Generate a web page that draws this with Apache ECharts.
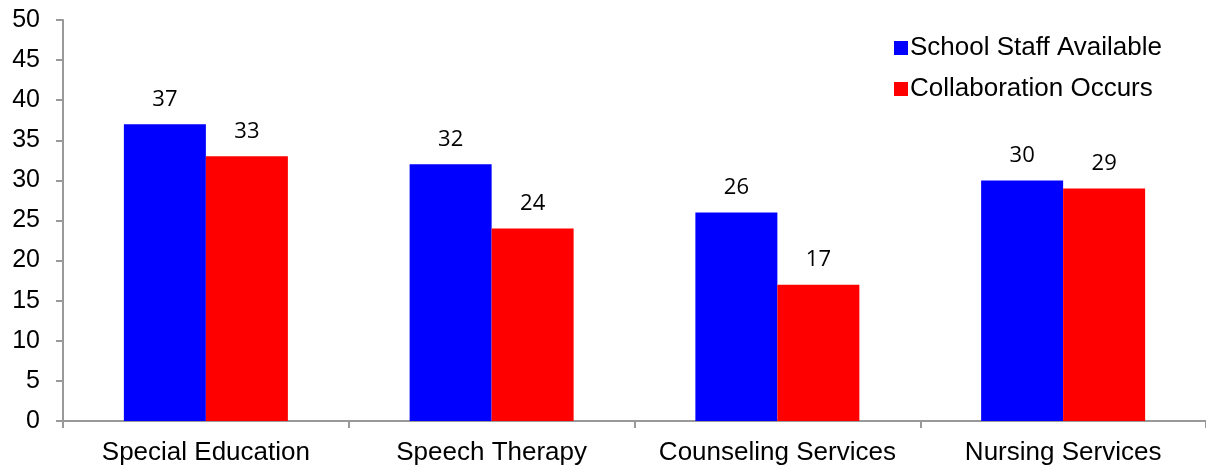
<!DOCTYPE html>
<html><head><meta charset="utf-8">
<script src="https://cdn.jsdelivr.net/npm/echarts@6/dist/echarts.min.js"></script>
<style>html,body{margin:0;padding:0;background:#fff}#c{width:1206px;height:468px}</style>
</head><body><div id="c"></div>
<script>
const categories = ['Special Education', 'Speech Therapy', 'Counseling Services', 'Nursing Services'];
const staffAvailable = [37, 32, 26, 30];
const collaboration = [33, 24, 17, 29];
const yTicks = [0, 5, 10, 15, 20, 25, 30, 35, 40, 45, 50];

const chart = echarts.init(document.getElementById('c'), null, {renderer: 'canvas'});
const labelStyle = {show: true, position: 'top', distance: 14, color: '#000', fontSize: 22, fontFamily: 'Open Sans'};
chart.setOption({
  animation: false,
  grid: {left: 63, right: 0, top: 20, bottom: 47},
  legend: {
    left: 889, top: 30, orient: 'vertical', itemWidth: 14, itemHeight: 14, itemGap: 15,
    icon: 'rect',
    textStyle: {fontSize: 26, fontFamily: 'Liberation Sans', color: '#000', padding: [0, 0, 0, -3]},
    data: ['School Staff Available', 'Collaboration Occurs']
  },
  xAxis: {
    type: 'category', data: categories,
    axisLine: {lineStyle: {color: '#999', width: 2}},
    axisTick: {show: true, interval: 0, length: 7, lineStyle: {color: '#999', width: 2}},
    axisLabel: {interval: 0, hideOverlap: false, fontSize: 26, fontFamily: 'Liberation Sans', color: '#000', margin: 19}
  },
  yAxis: {
    type: 'value', min: yTicks[0], max: yTicks[yTicks.length - 1], interval: 5,
    axisLine: {show: true, lineStyle: {color: '#999', width: 2}},
    axisTick: {show: true, length: 7, lineStyle: {color: '#999', width: 2}},
    splitLine: {show: false},
    axisLabel: {fontSize: 25, fontFamily: 'Liberation Sans', color: '#000', margin: 23}
  },
  series: [
    {name: 'School Staff Available', type: 'bar', data: staffAvailable, barWidth: 82, barGap: '0%',
     itemStyle: {color: '#0000FF'}, label: labelStyle},
    {name: 'Collaboration Occurs', type: 'bar', data: collaboration, barWidth: 82, barGap: '0%',
     itemStyle: {color: '#FF0000'}, label: labelStyle}
  ]
});
</script></body></html>
